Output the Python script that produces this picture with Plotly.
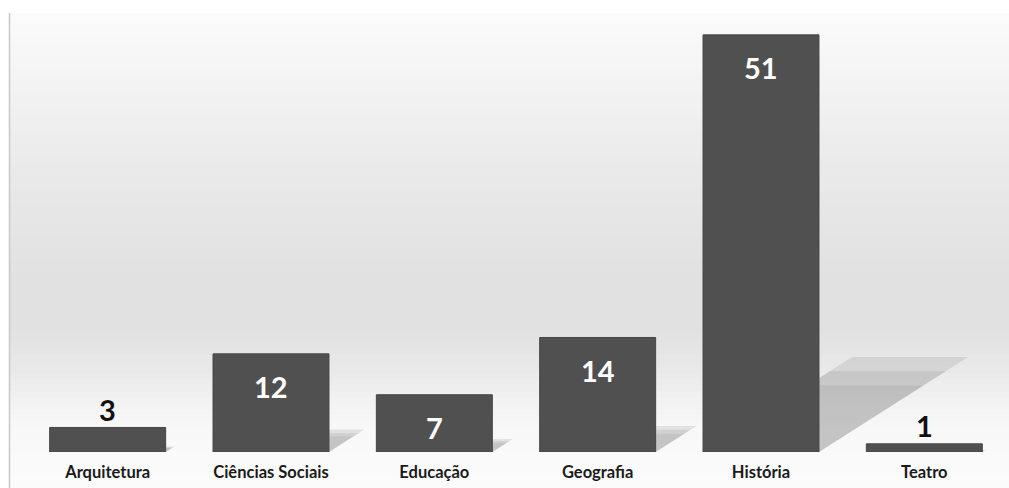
import plotly.graph_objects as go

categories = ["Arquitetura", "Ciências Sociais", "Educação", "Geografia", "História", "Teatro"]
values = [3, 12, 7, 14, 51, 1]

W, H = 1009, 488
ML, MR, MT, MB = 26, 3, 0, 36
PW, PH = W - ML - MR, H - MT - MB
YMAX = 55.26

def px_x(p):
    return (p - ML) / PW

def px_y(p):
    return (H - MB - p) / PH

# background vertical gradient (pixel row -> gray level)
stops = [(13, 251), (60, 246), (120, 239), (200, 231), (280, 225), (330, 225),
         (370, 233), (400, 242), (430, 248), (460, 250), (488, 251)]

def gray_at(y):
    for (y0, g0), (y1, g1) in zip(stops[:-1], stops[1:]):
        if y0 <= y <= y1:
            return g0 + (g1 - g0) * (y - y0) / (y1 - y0)
    return stops[-1][1]

shapes = []
step = 6
y = 13
while y < 488:
    g = int(round(gray_at(y + step / 2)))
    shapes.append(dict(type="rect", xref="paper", yref="paper", layer="below",
                       x0=px_x(10), x1=px_x(1010), y0=px_y(min(y + step, 488)), y1=px_y(y),
                       fillcolor=f"rgb({g},{g},{g})", line=dict(width=0)))
    y += step

# left border line
shapes.append(dict(type="line", xref="paper", yref="paper", layer="below",
                   x0=px_x(9.5), x1=px_x(9.5), y0=px_y(488), y1=px_y(13),
                   line=dict(color="rgb(200,200,200)", width=1.5)))

# perspective shadows behind bars, derived from the bar values
half = (1 - 0.29) / 2
a, b = 0.0179, 0.228
for i, v in enumerate(values):
    xl, xr = i - half, i + half
    for k, op in [(1.0, 0.14), (0.85, 0.12), (0.7, 0.1)]:
        path = (f"M {xl},0 L {xl + a * v * k},{b * v * k} "
                f"L {xr + a * v * k},{b * v * k} L {xr},0 Z")
        shapes.append(dict(type="path", xref="x", yref="y", layer="below", path=path,
                           fillcolor=f"rgba(90,90,90,{op})", line=dict(width=0)))

fig = go.Figure()
fig.add_trace(go.Bar(
    x=list(range(len(categories))), y=values,
    marker=dict(color="#505050", line=dict(color="#464646", width=1)),
    hoverinfo="skip",
))

annotations = []
for i, v in enumerate(values):
    inside = v >= 5
    annotations.append(dict(
        x=i, y=v, xref="x", yref="y", text=f"<b>{v}</b>", showarrow=False,
        yshift=-33 if inside else 18,
        font=dict(family="Lato", size=29, color="white" if inside else "#111111"),
    ))

fig.update_layout(
    width=W, height=H,
    margin=dict(l=ML, r=MR, t=MT, b=MB),
    paper_bgcolor="white", plot_bgcolor="rgba(0,0,0,0)",
    bargap=0.29, showlegend=False,
    shapes=shapes, annotations=annotations,
    xaxis=dict(tickmode="array", tickvals=list(range(len(categories))),
               ticktext=[f"<b>{c}</b>" for c in categories],
               range=[-0.5, len(categories) - 0.5],
               showgrid=False, zeroline=False, showline=False, ticks="",
               ticklabelstandoff=8,
               tickfont=dict(family="Lato", size=16.5, color="#1a1a1a")),
    yaxis=dict(range=[0, YMAX], visible=False, showgrid=False, zeroline=False),
)

fig.write_html("out.html")
